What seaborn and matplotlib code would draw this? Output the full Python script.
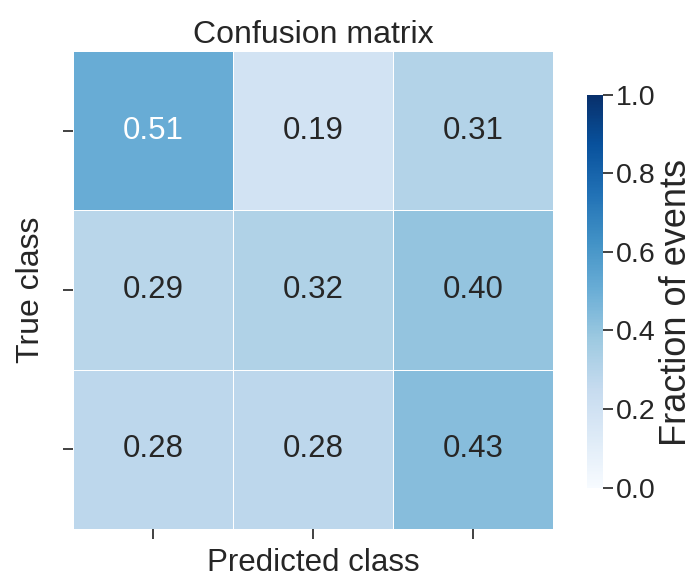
import numpy as np
import matplotlib
matplotlib.use("Agg")
import matplotlib.pyplot as plt
import seaborn as sns

# Normalised confusion matrix (rows: true class, columns: predicted class)
row0 = [0.51, 0.19, 0.31]
row1 = [0.29, 0.32, 0.40]
row2 = [0.28, 0.28, 0.43]
cbar_ticks = [0.0, 0.2, 0.4, 0.6, 0.8, 1.0]

sns.set_theme(style="ticks")
plt.rcParams["font.family"] = ["Liberation Sans", "DejaVu Sans"]
plt.rcParams["text.color"] = "#262626"
plt.rcParams["axes.labelcolor"] = "#262626"

cm = np.array([row0, row1, row2])

fig = plt.figure(figsize=(6.96, 5.8), dpi=100)
ax = fig.add_axes([0.105, 0.088, 0.690, 0.824])
cax = fig.add_axes([0.843, 0.159, 0.024, 0.678])

sns.heatmap(cm, ax=ax, cbar_ax=cax, cmap="Blues", vmin=0, vmax=1,
            annot=True, fmt=".2f", annot_kws={"size": 22.5},
            linewidths=0.7, linecolor="white",
            cbar_kws={"ticks": cbar_ticks})

ax.set_xticks([0.5, 1.5, 2.5])
ax.set_yticks([0.5, 1.5, 2.5])
ax.set_xticklabels([])
ax.set_yticklabels([])
ax.tick_params(axis="both", length=7, width=1.3, color="#333333")
ax.set_title("Confusion matrix", fontsize=23, pad=6)
ax.set_xlabel("Predicted class", fontsize=22.5, labelpad=3)
ax.set_ylabel("True class", fontsize=23, labelpad=9)

cbar = ax.collections[0].colorbar
cbar.outline.set_visible(False)
cax.tick_params(labelsize=20.5, length=7, width=1.3, color="#333333", pad=2)
cax.set_ylabel("Fraction of events", fontsize=26)
cax.yaxis.set_label_coords(4.3, 0.47)

fig.savefig("out.png", dpi=100)
